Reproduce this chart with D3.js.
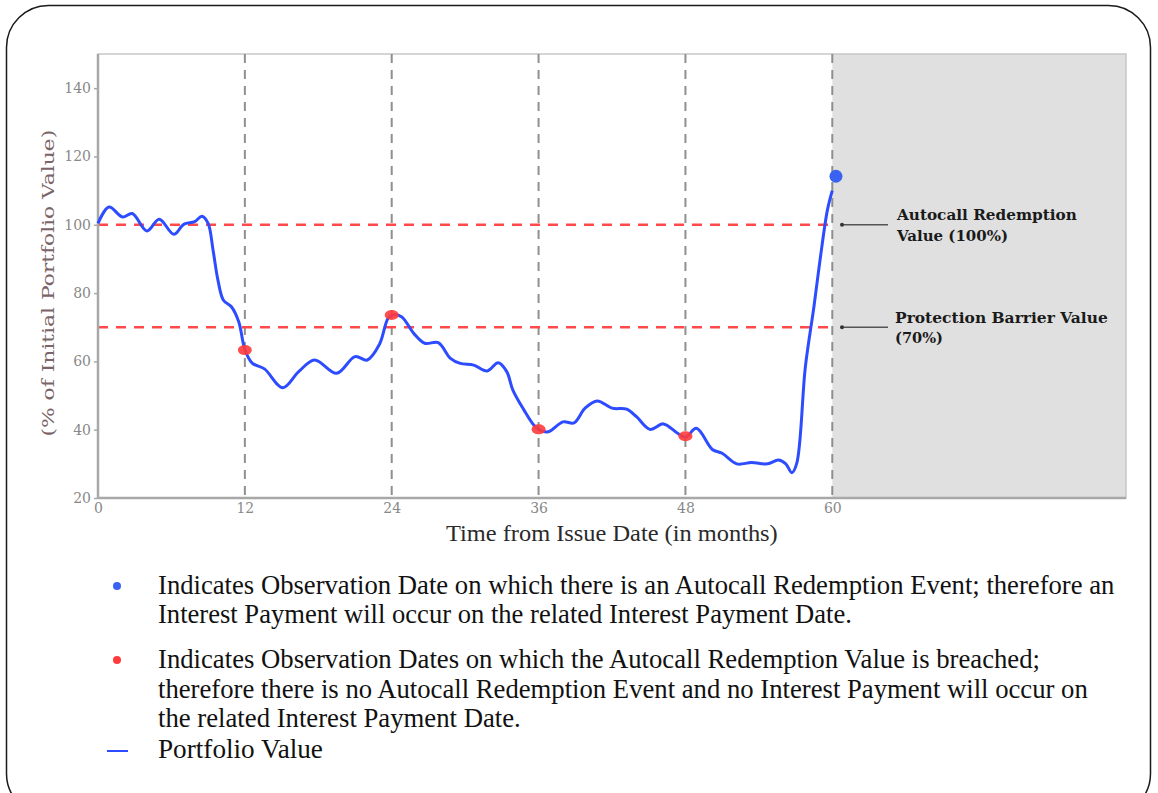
<!DOCTYPE html>
<html>
<head>
<meta charset="utf-8">
<script src="https://cdn.jsdelivr.net/npm/d3@7"></script>
<style>
  html, body { margin: 0; padding: 0; background: #ffffff; }
  svg { display: block; }
</style>
</head>
<body>
<svg id="chart" width="1158" height="793"></svg>
<script>
// ---------------- DATA ----------------
const months = [0, 0.9, 2.0, 2.8, 4.0, 5.0, 6.2, 7.0, 7.9, 8.5, 9.0, 9.4, 9.8, 10.25, 10.9, 11.5,
  12.0, 12.6, 13.6, 15.1, 16.4, 17.7, 19.5, 21.0, 22.0, 23.0, 23.7, 24.1, 24.8, 25.8, 26.7, 27.8,
  28.8, 29.6, 30.7, 31.8, 32.7, 33.4, 33.9, 34.8, 35.6, 36.1, 36.8, 38.0, 38.9, 39.8, 40.8, 42.0,
  43.2, 44.0, 45.1, 46.2, 47.3, 48.0, 48.9, 50.2, 51.0, 52.2, 53.4, 54.7, 55.6, 56.2, 56.7, 57.1,
  57.8, 58.5, 59.0, 59.6, 60.0];
const portfolioValues = [100.4, 105.2, 102.3, 103.3, 98.2, 101.6, 97.2, 100.1, 100.9, 102.5, 100.4, 92.6, 83.8, 77.9, 76.0, 71.6,
  63.5, 59.5, 57.8, 52.3, 57.0, 60.4, 56.5, 61.4, 60.4, 65.0, 72.6, 73.6, 73.1, 68.2, 65.3, 65.5,
  60.9, 59.4, 58.9, 57.2, 59.6, 57.0, 51.6, 45.8, 41.4, 39.9, 39.4, 42.3, 42.0, 46.3, 48.4, 46.3,
  46.0, 43.8, 40.1, 41.7, 39.1, 37.8, 40.4, 34.2, 33.1, 30.0, 30.4, 30.0, 31.1, 30.0, 27.4, 30.2,
  58.4, 76.0, 89.7, 104.3, 110.0];
const breachMonths = [12, 24, 36, 48];
const breachValues = [63.3, 73.6, 40.1, 38.1];
const autocallMonths = [60.3];
const autocallValues = [114.2];
const observationMonths = [12, 24, 36, 48, 60];
const levelValues = [100, 70];
const levelLabels = [["Autocall Redemption", "Value (100%)"], ["Protection Barrier Value", "(70%)"]];
const xTicks = [0, 12, 24, 36, 48, 60];
const yTicks = [20, 40, 60, 80, 100, 120, 140];
const xTitle = "Time from Issue Date (in months)";
const yTitle = "(% of Initial Portfolio Value)";
const legendLines = [
  ["Indicates Observation Date on which there is an Autocall Redemption Event; therefore an",
   "Interest Payment will occur on the related Interest Payment Date."],
  ["Indicates Observation Dates on which the Autocall Redemption Value is breached;",
   "therefore there is no Autocall Redemption Event and no Interest Payment will occur on",
   "the related Interest Payment Date."],
  ["Portfolio Value"]
];

// ---------------- LAYOUT ----------------
const svg = d3.select("#chart");
const plot = { left: 98, right: 1126, top: 54, bottom: 498 };
const x = d3.scaleLinear().domain([0, 84]).range([plot.left, plot.right]);
const y = d3.scaleLinear().domain([20, 150]).range([plot.bottom, plot.top]);

// outer rounded frame
svg.append("rect").attr("x", 6.5).attr("y", 5.5).attr("width", 1144).attr("height", 810)
  .attr("rx", 42).attr("fill", "none").attr("stroke", "#1a1a1a").attr("stroke-width", 1.5);

// shaded region after maturity
svg.append("rect").attr("x", x(60)).attr("y", plot.top)
  .attr("width", x(84) - x(60)).attr("height", plot.bottom - plot.top).attr("fill", "#e0e0e0");

// plot border
svg.append("rect").attr("x", plot.left).attr("y", plot.top)
  .attr("width", plot.right - plot.left).attr("height", plot.bottom - plot.top)
  .attr("fill", "none").attr("stroke", "#c8c8c8").attr("stroke-width", 1.5);

// vertical dashed observation lines
svg.append("g").selectAll("line").data(observationMonths).join("line")
  .attr("x1", d => x(d)).attr("x2", d => x(d))
  .attr("y1", plot.top).attr("y2", plot.bottom)
  .attr("stroke", "#8f8f8f").attr("stroke-width", 2).attr("stroke-dasharray", "9,7");

// horizontal red dashed level lines
svg.append("g").selectAll("line").data(levelValues).join("line")
  .attr("x1", x(0)).attr("x2", x(60))
  .attr("y1", d => y(d)).attr("y2", d => y(d))
  .attr("stroke", "#ff4a4a").attr("stroke-width", 2.5).attr("stroke-dasharray", "10,8");

// axes
const yAxis = svg.append("g").attr("transform", `translate(${plot.left},0)`)
  .call(d3.axisLeft(y).tickValues(yTicks).tickSize(4).tickPadding(3));
const xAxis = svg.append("g").attr("transform", `translate(0,${plot.bottom})`)
  .call(d3.axisBottom(x).tickValues(xTicks).tickSize(0).tickPadding(5));
[yAxis, xAxis].forEach(g => {
  g.select(".domain").attr("stroke", "#a8a8a8").attr("stroke-width", 2.5);
  g.selectAll(".tick line").attr("stroke", "#a8a8a8").attr("stroke-width", 1.5);
  g.selectAll(".tick text").attr("fill", "#888")
    .style("font-family", "'DejaVu Serif', serif").style("font-size", "14px");
});
xAxis.select(".domain").attr("d", `M${plot.left},0H${plot.right}`);
yAxis.select(".domain").attr("d", `M0,${plot.bottom}V${plot.top}`);

// helper: text scaled horizontally to a target width
function fitText(parent, tx, ty, target, str, style) {
  const g = parent.append("g");
  const t = g.append("text").attr("x", 0).attr("y", 0).text(str);
  Object.entries(style).forEach(([k, v]) => t.style(k, v));
  const w = t.node().getComputedTextLength();
  const sx = w > 0 ? target / w : 1;
  g.attr("transform", `translate(${tx},${ty}) scale(${sx},1)`);
  return t;
}

// axis titles
const yt = svg.append("g").attr("transform", "translate(54,283) rotate(-90)");
fitText(yt, -153.5, 0, 307, yTitle,
  { "font-family": "'DejaVu Serif', serif", "font-size": "17px", "fill": "#7a6468" });
fitText(svg, 446, 541, 332, xTitle,
  { "font-family": "'Liberation Serif', serif", "font-size": "24px", "fill": "#2a2a2a" });

// portfolio line
const pts = months.map((m, i) => [m, portfolioValues[i]]);
svg.append("path").datum(pts)
  .attr("fill", "none").attr("stroke", "#2d4cff").attr("stroke-width", 3)
  .attr("stroke-linejoin", "round")
  .attr("d", d3.line().x(d => x(d[0])).y(d => y(d[1])).curve(d3.curveCatmullRom.alpha(0.5)));

// observation markers
svg.append("g").selectAll("ellipse").data(breachMonths).join("ellipse")
  .attr("cx", d => x(d)).attr("cy", (d, i) => y(breachValues[i]))
  .attr("rx", 7).attr("ry", 5).attr("fill", "#ff3b3b").attr("opacity", 0.9);
svg.append("g").selectAll("circle").data(autocallMonths).join("circle")
  .attr("cx", d => x(d)).attr("cy", (d, i) => y(autocallValues[i]))
  .attr("r", 6.5).attr("fill", "#3a62f0");

// level annotations with arrows
const ann = svg.append("g");
levelValues.forEach((v, i) => {
  const yy = y(v);
  ann.append("line").attr("x1", 841).attr("x2", 888).attr("y1", yy).attr("y2", yy)
    .attr("stroke", "#555").attr("stroke-width", 1.5);
  ann.append("circle").attr("cx", 842).attr("cy", yy).attr("r", 2).attr("fill", "#333");
});
const annPos = [
  [{ x: 897, y: 220, w: 180 }, { x: 897, y: 241, w: 111 }],
  [{ x: 895, y: 323, w: 213 }, { x: 895, y: 343, w: 48 }]
];
levelLabels.forEach((lines, i) => {
  lines.forEach((t, j) => {
    const p = annPos[i][j];
    fitText(ann, p.x, p.y, p.w, t,
      { "font-family": "'DejaVu Serif', serif", "font-size": "14px", "font-weight": "bold", "fill": "#1a1a1a" });
  });
});

// legend
const leg = svg.append("g");
const legBase = [[594, 623], [668, 698, 727], [758]];
const legWidths = [[957, 694], [882, 930, 363], [165]];
legendLines.forEach((lines, i) => {
  lines.forEach((t, j) => {
    fitText(leg, 158, legBase[i][j], legWidths[i][j], t,
      { "font-family": "'Liberation Serif', serif", "font-size": "28px", "fill": "#111" });
  });
});
leg.append("circle").attr("cx", 117).attr("cy", 586).attr("r", 4).attr("fill", "#3a62f0");
leg.append("circle").attr("cx", 117).attr("cy", 660).attr("r", 4).attr("fill", "#ff3b3b");
leg.append("line").attr("x1", 107).attr("x2", 128).attr("y1", 751).attr("y2", 751)
  .attr("stroke", "#2d4cff").attr("stroke-width", 2);
</script>
</body>
</html>
